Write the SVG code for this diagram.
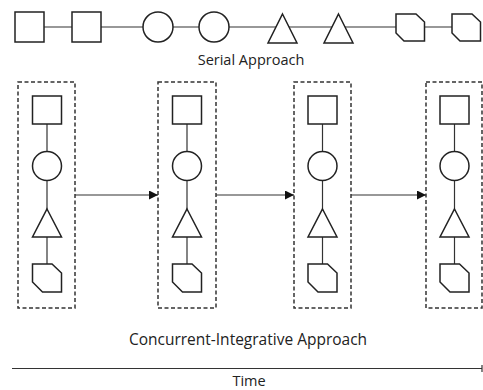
<svg xmlns="http://www.w3.org/2000/svg" width="483" height="390" viewBox="0 0 483 390">
  <defs>
    <style>
      .shape { fill: #fff; stroke: #222; stroke-width: 1.5; }
      .link { stroke: #333; stroke-width: 1.2; fill: none; }
      .frame { fill: none; stroke: #333; stroke-width: 1.5; stroke-dasharray: 4 2.5; }
      .label { font-family: "Open Sans", "Noto Sans", sans-serif; font-size: 14.5px; fill: #222; text-anchor: middle; }
      .wide { font-size: 15.5px; }
    </style>
    <marker id="arrow" viewBox="0 0 10 10" refX="10" refY="5" markerWidth="9" markerHeight="9" markerUnits="userSpaceOnUse" orient="auto">
      <path d="M0,0 L10,5 L0,10 z" fill="#111"/>
    </marker>
    <!-- one stage: square, circle, triangle, clipped box stacked vertically, centred on x=0 -->
    <g id="stage">
      <line class="link" x1="0" y1="124" x2="0" y2="264"/>
      <rect class="shape" x="-14.5" y="96" width="29" height="28"/>
      <circle class="shape" cx="0" cy="166" r="14.5"/>
      <polygon class="shape" points="0,209 14.5,237 -14.5,237"/>
      <polygon class="shape" points="-14.5,264 5,264 14.5,273 14.5,292 -4.5,292 -14.5,282"/>
    </g>
  </defs>

  <!-- serial chain -->
  <g id="serial">
    <line class="link" x1="15" y1="27" x2="480" y2="27"/>
    <g id="s1"><rect class="shape" x="15" y="12" width="29" height="30"/></g>
    <g id="s2"><rect class="shape" x="72" y="12" width="29" height="30"/></g>
    <g id="s3"><circle class="shape" cx="158" cy="27" r="15"/></g>
    <g id="s4"><circle class="shape" cx="214" cy="27" r="15"/></g>
    <g id="s5"><polygon class="shape" points="282.5,14 297,43 268,43"/></g>
    <g id="s6"><polygon class="shape" points="338.5,14 353,43 324,43"/></g>
    <g id="s7"><polygon class="shape" points="396,14 416,14 424.5,22 424.5,41 404,41 396,33"/></g>
    <g id="s8"><polygon class="shape" points="452,14 472,14 480.5,22 480.5,41 460,41 452,33"/></g>
    <text class="label" x="251" y="65">Serial Approach</text>
  </g>

  <!-- concurrent stages -->
  <g id="c1">
    <rect class="frame" x="18" y="82" width="57" height="226"/>
    <use href="#stage" x="47" y="0"/>
  </g>
  <g id="c2">
    <rect class="frame" x="158" y="82" width="58" height="226"/>
    <use href="#stage" x="187" y="0"/>
  </g>
  <g id="c3">
    <rect class="frame" x="294" y="82" width="57" height="226"/>
    <use href="#stage" x="322.5" y="0"/>
  </g>
  <g id="c4">
    <rect class="frame" x="426" y="82" width="56" height="226"/>
    <use href="#stage" x="454.5" y="0"/>
  </g>

  <g id="connectors">
    <line class="link" x1="75" y1="195" x2="158" y2="195" marker-end="url(#arrow)"/>
    <line class="link" x1="216" y1="195" x2="294" y2="195" marker-end="url(#arrow)"/>
    <line class="link" x1="351" y1="195" x2="426" y2="195" marker-end="url(#arrow)"/>
  </g>

  <text class="label wide" x="248" y="345">Concurrent-Integrative Approach</text>

  <!-- time axis -->
  <g id="time">
    <line class="link" x1="12" y1="368.5" x2="482" y2="368.5"/>
    <line class="link" x1="482" y1="365" x2="482" y2="372"/>
    <text class="label" x="249" y="386">Time</text>
  </g>
</svg>
